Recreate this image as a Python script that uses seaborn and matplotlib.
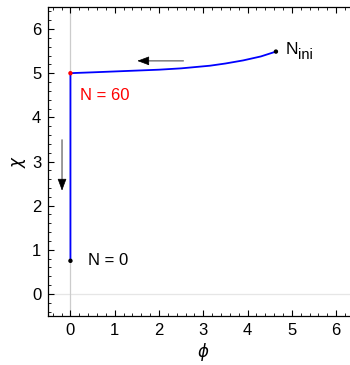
import matplotlib
matplotlib.use("Agg")
import matplotlib.pyplot as plt
import seaborn as sns
import pandas as pd
from matplotlib.ticker import MultipleLocator

# data
phi = [4.64, 4.3, 3.9, 3.5, 3.15, 2.5, 2.0, 1.5, 1.0, 0.5, 0.1, 0.0, 0.0]
chi = [5.49, 5.38, 5.29, 5.22, 5.17, 5.11, 5.08, 5.06, 5.04, 5.02, 5.005, 5.0, 0.75]
pt_names = ["N_ini", "N = 60", "N = 0"]
pt_phi = [4.64, 0.0, 0.0]
pt_chi = [5.49, 5.0, 0.75]
pt_colors = ["black", "red", "black"]
xticks = [0, 1, 2, 3, 4, 5, 6]
yticks = [0, 1, 2, 3, 4, 5, 6]

sns.set_style("ticks")
plt.rcParams['font.family'] = ['Liberation Sans', 'DejaVu Sans']
plt.rcParams['text.color'] = 'black'
plt.rcParams['xtick.color'] = 'black'
plt.rcParams['ytick.color'] = 'black'
plt.rcParams['axes.labelcolor'] = 'black'
plt.rcParams['axes.edgecolor'] = 'black'

fig = plt.figure(figsize=(3.5, 3.65), dpi=100)
ax = fig.add_axes([48.3/350, 49/365, 310/350, 309/365])

ax.axhline(0, color="#e6e6e6", lw=0.9, zorder=0)
ax.axvline(0, color="#cccccc", lw=0.9, zorder=0)

df = pd.DataFrame({"phi": phi, "chi": chi})
sns.lineplot(data=df, x="phi", y="chi", sort=False, estimator=None,
             color="#0000ff", lw=1.3, ax=ax)
pdf = pd.DataFrame({"phi": pt_phi, "chi": pt_chi, "name": pt_names})
sns.scatterplot(data=pdf, x="phi", y="chi", hue="name",
                palette=dict(zip(pt_names, pt_colors)), s=10,
                edgecolor="none", legend=False, ax=ax, zorder=5)

ax.text(4.85, 5.53, "N", fontsize=12.5, va="center", ha="left")
ax.annotate("ini", xy=(4.85, 5.53), xytext=(9.5, -4), textcoords="offset points",
            fontsize=10.5, va="center", ha="left")
ax.text(0.22, 4.49, "N = 60", fontsize=12, color="red", va="center", ha="left")
ax.text(0.40, 0.75, "N = 0", fontsize=12, va="center", ha="left")

shaft = dict(arrowstyle="-", color="#707070", lw=1.0, shrinkA=0, shrinkB=0)
head = dict(arrowstyle="-|>,head_length=0.75,head_width=0.28", fc="black",
            ec="black", lw=0.5, shrinkA=0, shrinkB=0)
ax.annotate("", xy=(1.65, 5.28), xytext=(2.55, 5.28), arrowprops=shaft)
ax.annotate("", xy=(1.51, 5.28), xytext=(1.75, 5.28), arrowprops=head)
ax.annotate("", xy=(-0.19, 2.48), xytext=(-0.19, 3.49), arrowprops=shaft)
ax.annotate("", xy=(-0.19, 2.34), xytext=(-0.19, 2.58), arrowprops=head)

ax.set_xlim(-0.5, 6.5)
ax.set_ylim(-0.5, 6.5)
ax.set_xticks(xticks)
ax.set_yticks(yticks)
ax.xaxis.set_minor_locator(MultipleLocator(0.2))
ax.yaxis.set_minor_locator(MultipleLocator(0.2))
ax.tick_params(which="major", direction="in", length=4, width=0.8,
               top=True, right=False, labelsize=12, labeltop=False, pad=5)
ax.tick_params(which="minor", direction="in", length=2.2, width=0.6,
               top=True, right=False)
for s in ["left", "bottom", "top"]:
    ax.spines[s].set_visible(True)
    ax.spines[s].set_linewidth(0.9)
ax.spines["right"].set_visible(False)

ax.set_xlabel(r"$\phi$", fontsize=12, labelpad=2)
ax.set_ylabel(r"$\chi$", fontsize=12, labelpad=3)

fig.savefig("out.png", dpi=100)
